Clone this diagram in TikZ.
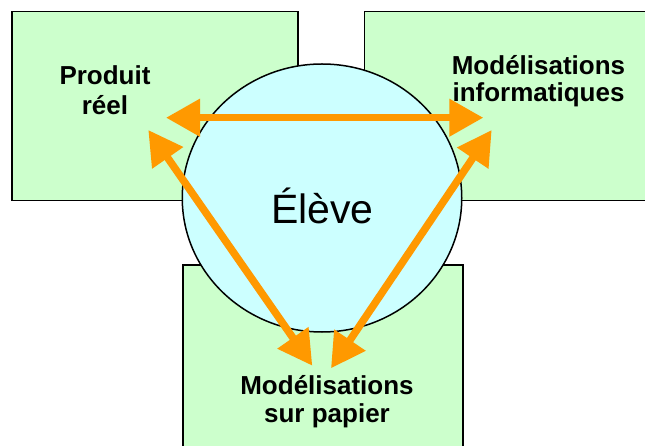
\documentclass[tikz,border=0pt]{standalone}
\usepackage{fontspec}
\setmainfont{Liberation Sans}
\usetikzlibrary{arrows.meta,shapes.geometric}
\definecolor{boxgreen}{HTML}{CCFFCC}
\definecolor{pupilcyan}{HTML}{CCFFFF}
\definecolor{linkorange}{HTML}{FF9900}

\begin{document}
\begin{tikzpicture}[x=1pt,y=-1pt,
  area/.style={draw=black, line width=1.5pt, fill=boxgreen, rectangle,
    inner sep=0pt, anchor=north west},
  lbl/.style={font=\fontsize{26}{#1}\selectfont\bfseries, align=center,
    anchor=base, inner sep=0pt},
  link/.style={draw=linkorange, line width=7.5pt,
    {Triangle[length=34pt,width=36pt]}-{Triangle[length=34pt,width=36pt]}}]
\clip (0,0) rectangle (645,446);
\fill[white] (0,0) rectangle (645,446);

% the three fields of work
\node[area, minimum width=286pt, minimum height=189pt] (real) at (11,11) {};
\node[area, minimum width=340pt, minimum height=189pt] (info) at (363.5,11) {};
\node[area, minimum width=280pt, minimum height=240pt] (paper) at (182,264.5) {};

% the pupil in the middle
\node[draw=black, line width=1.5pt, fill=pupilcyan, ellipse,
  minimum width=279.5pt, minimum height=268pt, inner sep=0pt] (pupil) at (322,198) {};
\node[font=\fontsize{41}{48}\selectfont, anchor=base, inner sep=0pt]
  (pupiltext) at (322.3,223.3) {Élève};

% field labels (placed by the baseline of their last line)
\node[lbl=30] (realtext) at (105,114.3) {Produit\\réel};
\node[lbl=27.5] (infotext) at (538.5,101.7) {Modélisations\\informatiques};
\node[lbl=27.7] (papertext) at (327,422) {Modélisations\\sur papier};

% arrow ends
\coordinate (hl) at (166,117.7);
\coordinate (hr) at (483.3,117.7);
\coordinate (dl) at (148.3,130);
\coordinate (dlb) at (312.3,365.7);
\coordinate (dr) at (491.7,130);
\coordinate (drb) at (331,368.3);

% two-way links between the fields
\draw[link] (hl) -- (hr);
\draw[link] (dl) -- (dlb);
\draw[link] (dr) -- (drb);
\end{tikzpicture}
\end{document}
